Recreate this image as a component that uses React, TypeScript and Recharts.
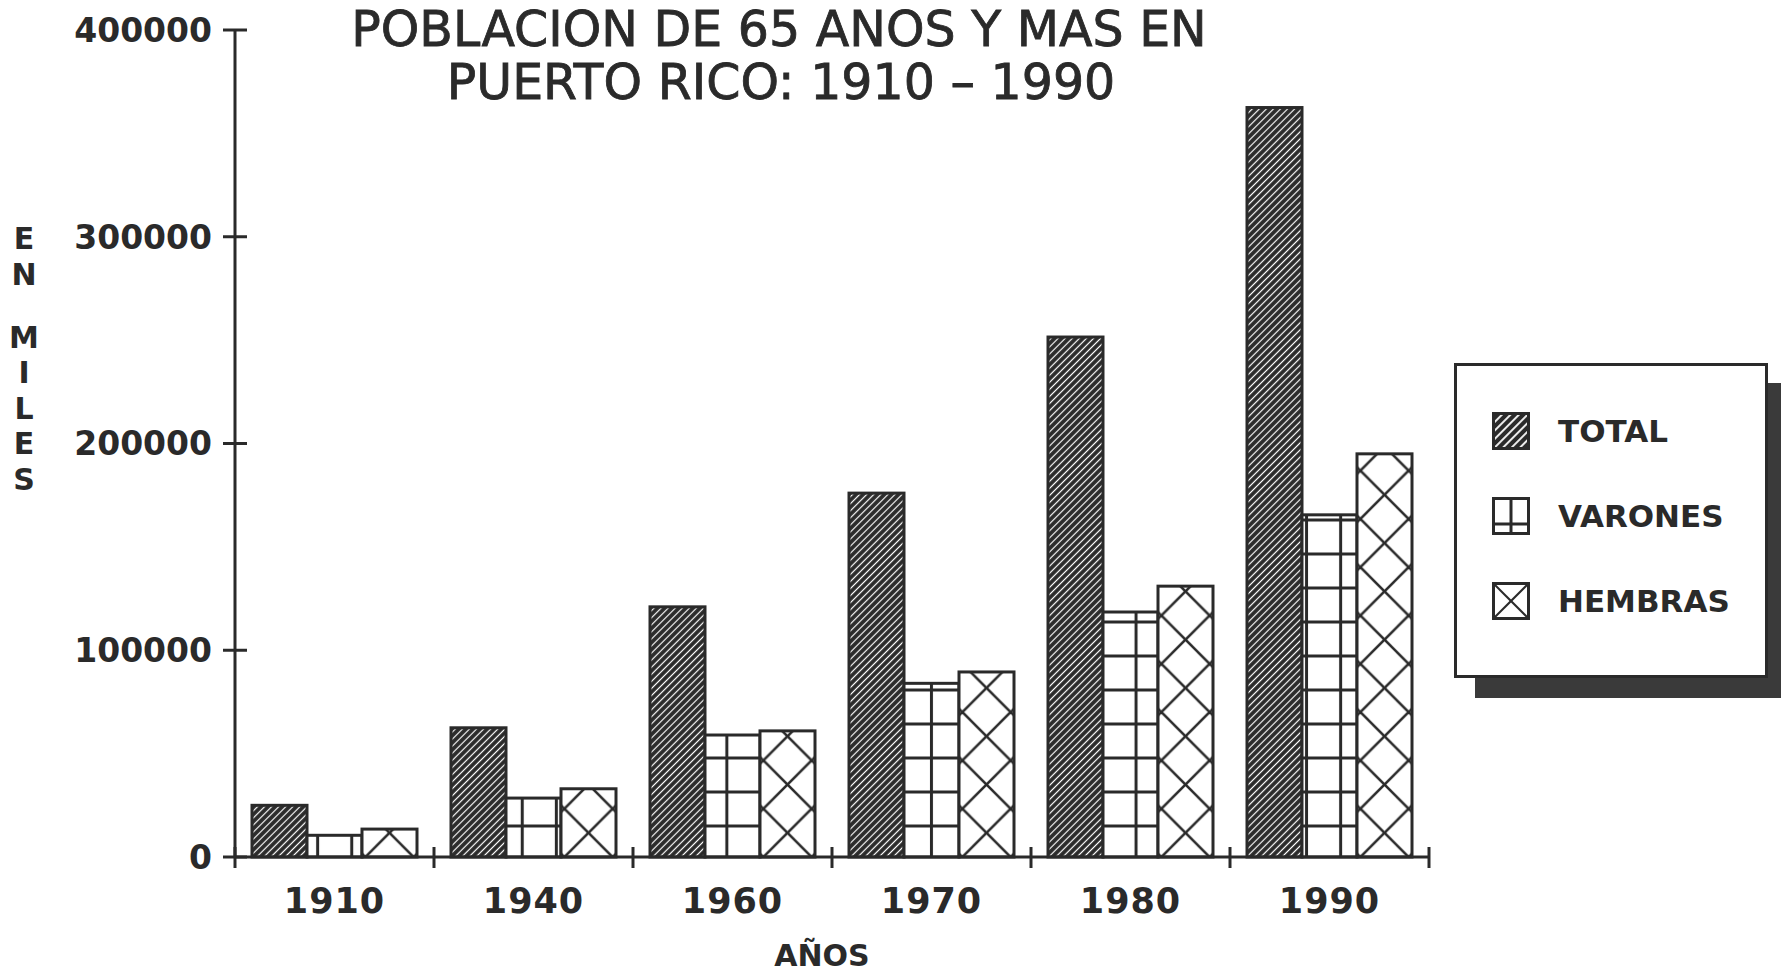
import { BarChart, Bar, XAxis, YAxis } from "recharts";

const years = ["1910", "1940", "1960", "1970", "1980", "1990"];
const total = [25000, 62500, 121000, 176000, 251500, 362500];
const varones = [10500, 28500, 59000, 84000, 118500, 165500];
const hembras = [13500, 33000, 61000, 89500, 131000, 195000];
const yTicks = [0, 100000, 200000, 300000, 400000];
const yLabel = ["E", "N", "", "M", "I", "L", "E", "S"];
const seriesNames = ["TOTAL", "VARONES", "HEMBRAS"];

const data = years.map((year, i) => ({
  year,
  total: total[i],
  varones: varones[i],
  hembras: hembras[i],
}));

const W = 1781;
const H = 975;
const LEFT = 235;
const RIGHT = 352;
const TOP = 30;
const XAXIS_H = 118;
const BAND = (W - LEFT - RIGHT) / years.length;
const INK = "#2a2a2a";
const FONT = "'DejaVu Sans', sans-serif";
const CROSS = 48.3;

function YTick(props: any) {
  const { x, y, payload } = props;
  return (
    <g>
      <line x1={LEFT - 12} x2={LEFT + 12} y1={y} y2={y} stroke={INK} strokeWidth={3} />
      <text
        x={x}
        y={y}
        dy="0.36em"
        textAnchor="end"
        fill={INK}
        fontFamily={FONT}
        fontWeight="bold"
        fontSize={33}
      >
        {payload.value}
      </text>
    </g>
  );
}

function XTick(props: any) {
  const { x, y, payload, index } = props;
  const last = index === years.length - 1;
  return (
    <g>
      <line x1={x - BAND / 2} x2={x - BAND / 2} y1={y - 10} y2={y + 11} stroke={INK} strokeWidth={3} />
      {last && (
        <line x1={x + BAND / 2} x2={x + BAND / 2} y1={y - 10} y2={y + 11} stroke={INK} strokeWidth={3} />
      )}
      <text
        x={x}
        y={y}
        dy={56}
        textAnchor="middle"
        fill={INK}
        fontFamily={FONT}
        fontWeight="bold"
        fontSize={35}
        letterSpacing={1}
      >
        {payload.value}
      </text>
    </g>
  );
}

function TotalBar(props: any) {
  const { x, y, width, height } = props;
  return (
    <rect x={x} y={y} width={width} height={height} fill="url(#hatch)" stroke={INK} strokeWidth={3} />
  );
}

function VaronesBar(props: any) {
  const { x, y, width, height } = props;
  return (
    <rect x={x} y={y} width={width} height={height} fill="url(#grid)" stroke={INK} strokeWidth={3} />
  );
}

function HembrasBar(props: any) {
  const { x, y, width, height, index } = props;
  const id = `cross-${index}`;
  return (
    <g>
      <defs>
        <pattern
          id={id}
          patternUnits="userSpaceOnUse"
          x={x + width / 2 - CROSS / 2}
          y={y + height}
          width={CROSS}
          height={CROSS}
        >
          <rect width={CROSS} height={CROSS} fill="#fff" />
          <line x1={-1} y1={-1} x2={CROSS + 1} y2={CROSS + 1} stroke={INK} strokeWidth={2.6} />
          <line x1={CROSS + 1} y1={-1} x2={-1} y2={CROSS + 1} stroke={INK} strokeWidth={2.6} />
        </pattern>
      </defs>
      <rect x={x} y={y} width={width} height={height} fill={`url(#${id})`} stroke={INK} strokeWidth={3} />
    </g>
  );
}

function Swatch({ kind }: { kind: number }) {
  return (
    <svg width={38} height={38} style={{ display: "block" }}>
      <defs>
        <pattern id="lg-hatch" patternUnits="userSpaceOnUse" width={6} height={6} patternTransform="rotate(45)">
          <rect width={6} height={6} fill={INK} />
          <line x1={3} y1={0} x2={3} y2={6} stroke="#fff" strokeWidth={1.8} />
        </pattern>
      </defs>
      <rect
        x={1.5}
        y={1.5}
        width={35}
        height={35}
        fill={kind === 0 ? "url(#lg-hatch)" : "#fff"}
        stroke={INK}
        strokeWidth={3}
      />
      {kind === 1 && (
        <g stroke={INK} strokeWidth={3}>
          <line x1={19} y1={2} x2={19} y2={36} />
          <line x1={2} y1={27} x2={36} y2={27} />
        </g>
      )}
      {kind === 2 && (
        <g stroke={INK} strokeWidth={2}>
          <line x1={2} y1={2} x2={36} y2={36} />
          <line x1={36} y1={2} x2={2} y2={36} />
        </g>
      )}
    </svg>
  );
}

function LegendBox() {
  return (
    <div
      style={{
        position: "absolute",
        left: 1454,
        top: 363,
        width: 314,
        height: 315,
        boxSizing: "border-box",
        border: `3px solid ${INK}`,
        background: "#fff",
        boxShadow: "21px 20px 0 #3a3a3a",
        paddingTop: 22,
        paddingLeft: 35,
      }}
    >
      {seriesNames.map((name, i) => (
        <div key={name} style={{ display: "flex", alignItems: "center", height: 85 }}>
          <Swatch kind={i} />
          <span
            style={{
              marginLeft: 28,
              fontFamily: FONT,
              fontWeight: "bold",
              fontSize: 31,
              color: INK,
            }}
          >
            {name}
          </span>
        </div>
      ))}
    </div>
  );
}

export default function App() {
  return (
    <div
      style={{
        position: "absolute",
        left: 0,
        top: 0,
        width: W,
        height: H,
        overflow: "hidden",
        background: "#fff",
      }}
    >
      <BarChart
        width={W}
        height={H}
        data={data}
        margin={{ top: TOP, right: RIGHT, bottom: 0, left: 0 }}
        barSize={55}
        barGap={0}
      >
        <defs>
          <pattern id="hatch" patternUnits="userSpaceOnUse" width={5} height={5} patternTransform="rotate(45)">
            <rect width={5} height={5} fill={INK} />
            <line x1={2.5} y1={0} x2={2.5} y2={5} stroke="#fff" strokeWidth={1.2} />
          </pattern>
          <pattern id="grid" patternUnits="userSpaceOnUse" x={300.6} y={809} width={34.1} height={34}>
            <rect width={34.1} height={34} fill="#fff" />
            <line x1={17.05} y1={0} x2={17.05} y2={34} stroke={INK} strokeWidth={3} />
            <line x1={0} y1={17} x2={34.1} y2={17} stroke={INK} strokeWidth={3} />
          </pattern>
        </defs>
        <XAxis
          dataKey="year"
          height={XAXIS_H}
          axisLine={{ stroke: INK, strokeWidth: 3 }}
          tickLine={false}
          tickSize={0}
          tickMargin={0}
          tick={<XTick />}
          interval={0}
        />
        <YAxis
          width={LEFT}
          domain={[0, 400000]}
          ticks={yTicks}
          axisLine={{ stroke: INK, strokeWidth: 3 }}
          tickLine={false}
          tickSize={12}
          tickMargin={11}
          tick={<YTick />}
          interval={0}
        />
        <Bar dataKey="total" name={seriesNames[0]} fill={INK} shape={<TotalBar />} isAnimationActive={false} />
        <Bar dataKey="varones" name={seriesNames[1]} fill="#fff" shape={<VaronesBar />} isAnimationActive={false} />
        <Bar dataKey="hembras" name={seriesNames[2]} fill="#fff" shape={<HembrasBar />} isAnimationActive={false} />
      </BarChart>
      <LegendBox />
      <svg
        width={W}
        height={H}
        style={{ position: "absolute", left: 0, top: 0, pointerEvents: "none" }}
      >
        <g fill={INK} stroke={INK} strokeWidth={0.8} fontFamily={FONT} fontSize={49} textAnchor="middle">
          <text x={779} y={46}>POBLACION DE 65 ANOS Y MAS EN</text>
          <text x={781} y={99}>PUERTO RICO: 1910 – 1990</text>
        </g>
        <g fill={INK} fontFamily={FONT} fontWeight="bold" fontSize={30} textAnchor="middle">
          {yLabel.map((ch, i) => (
            <text key={i} x={24} y={249 + i * 35.5 - (i > 2 ? 8 : 0)}>
              {ch}
            </text>
          ))}
        </g>
        <text
          x={822}
          y={966}
          fill={INK}
          fontFamily={FONT}
          fontWeight="bold"
          fontSize={30}
          textAnchor="middle"
        >
          AÑOS
        </text>
      </svg>
    </div>
  );
}
